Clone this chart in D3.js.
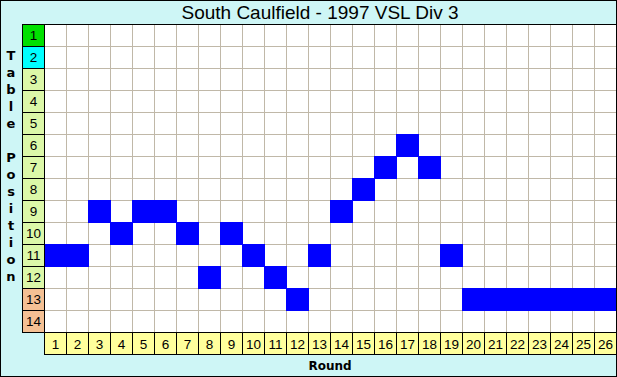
<!DOCTYPE html>
<html>
<head>
<meta charset="utf-8">
<script src="https://cdn.jsdelivr.net/npm/d3@7"></script>
<style>
  body { margin: 0; background: #fff; }
  svg { display: block; }
</style>
</head>
<body>
<div id="chart"></div>
<script>
const title = 'South Caulfield - 1997 VSL Div 3';
const rounds = d3.range(1, 27);
const positions = d3.range(1, 15);
const ladder = [11, 11, 9, 10, 9, 9, 10, 12, 10, 11, 12, 13, 11, 9, 8, 7, 6, 7, 11, 13, 13, 13, 13, 13, 13, 13];
// colour bands of the table position labels
const bandColor = p => p === 1 ? '#00e000' : p === 2 ? '#00ffff' : p >= 13 ? '#f4c094' : '#dcf8a8';

const width = 617, height = 377;

const svg = d3.select('#chart').append('svg')
    .attr('width', width)
    .attr('height', height);

svg.append('rect')
    .attr('width', width).attr('height', height)
    .attr('fill', '#cef6f6');

const x = d3.scaleBand().domain(rounds).range([44, 616]);
const y = d3.scaleBand().domain(positions).range([24, 332]);

// plot area
svg.append('rect')
    .attr('x', 44).attr('y', 24)
    .attr('width', 572).attr('height', 308)
    .attr('fill', '#fff');

const grid = svg.append('g').attr('stroke', '#c0b8a8').attr('stroke-width', 1);
grid.selectAll('.v').data(rounds.slice(1)).join('line')
    .attr('x1', d => x(d) + 0.5).attr('x2', d => x(d) + 0.5)
    .attr('y1', 24).attr('y2', 332);
grid.selectAll('.h').data(positions.slice(1)).join('line')
    .attr('y1', d => y(d) + 0.5).attr('y2', d => y(d) + 0.5)
    .attr('x1', 44).attr('x2', 616);

// team's position each round
svg.append('g').selectAll('rect').data(ladder).join('rect')
    .attr('x', (d, i) => x(rounds[i]))
    .attr('y', d => y(d))
    .attr('width', x.bandwidth() + 1)
    .attr('height', y.bandwidth() + 1)
    .attr('fill', '#0000ff');

// row labels
const rowLab = svg.append('g');
rowLab.selectAll('rect').data(positions).join('rect')
    .attr('x', 22.5).attr('y', d => y(d) + 0.5)
    .attr('width', 22).attr('height', y.bandwidth())
    .attr('fill', d => bandColor(d))
    .attr('stroke', '#000');
rowLab.selectAll('text').data(positions).join('text')
    .attr('x', 33.5).attr('y', d => y(d) + y.bandwidth() / 2 + 5)
    .attr('text-anchor', 'middle')
    .attr('font-family', 'Liberation Sans, Arial, sans-serif')
    .attr('font-size', 13.5)
    .text(d => d);

// column labels
const colLab = svg.append('g');
colLab.selectAll('rect').data(rounds).join('rect')
    .attr('x', d => x(d) + 0.5).attr('y', 332.5)
    .attr('width', x.bandwidth()).attr('height', 22)
    .attr('fill', '#ffff9c')
    .attr('stroke', '#000');
colLab.selectAll('text').data(rounds).join('text')
    .attr('x', d => x(d) + x.bandwidth() / 2 + 0.5).attr('y', 348.5)
    .attr('text-anchor', 'middle')
    .attr('font-family', 'Liberation Sans, Arial, sans-serif')
    .attr('font-size', 13.5)
    .text(d => d);

// plot frame
svg.append('rect')
    .attr('x', 44.5).attr('y', 24.5)
    .attr('width', 572).attr('height', 308)
    .attr('fill', 'none').attr('stroke', '#000');

// title
svg.append('text')
    .attr('x', 320).attr('y', 19)
    .attr('text-anchor', 'middle')
    .attr('font-family', 'Liberation Sans, Arial, sans-serif')
    .attr('font-size', 19)
    .text(title);

// axis titles
svg.append('text')
    .attr('x', 330).attr('y', 370)
    .attr('text-anchor', 'middle')
    .attr('font-family', 'DejaVu Sans, sans-serif')
    .attr('font-weight', 'bold')
    .attr('font-size', 12)
    .text('Round');

const yTitle = 'Table Position'.split('');
svg.append('g').selectAll('text').data(yTitle).join('text')
    .attr('x', 11).attr('y', (d, i) => 60 + i * 17)
    .attr('text-anchor', 'middle')
    .attr('font-family', 'DejaVu Sans, sans-serif')
    .attr('font-weight', 'bold')
    .attr('font-size', 13)
    .text(d => d);

// outer border
svg.append('rect')
    .attr('x', 0.5).attr('y', 0.5)
    .attr('width', width - 1).attr('height', height - 1)
    .attr('fill', 'none').attr('stroke', '#000');
</script>
</body>
</html>
